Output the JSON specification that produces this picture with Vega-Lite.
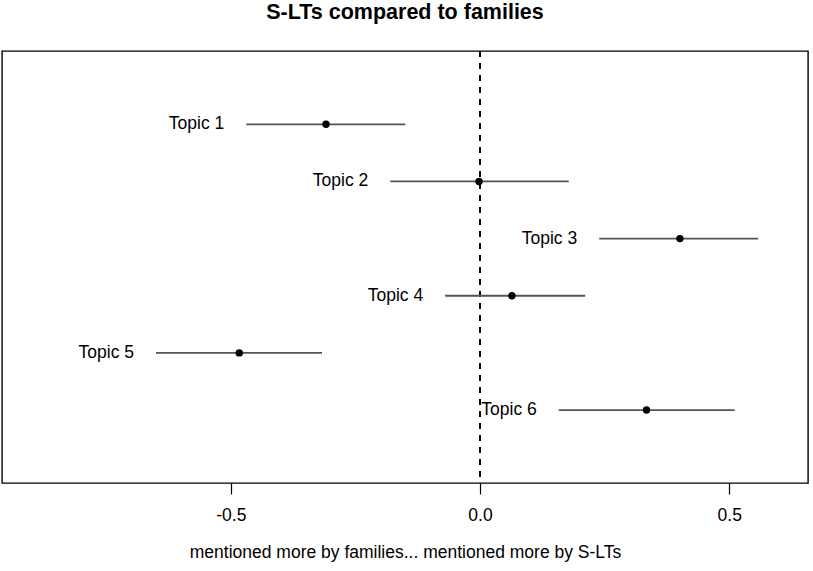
{
  "$schema": "https://vega.github.io/schema/vega-lite/v6.json",
  "autosize": "none",
  "width": 806,
  "height": 432,
  "padding": {"left": 2, "top": 51, "right": 5, "bottom": 88},
  "background": "white",
  "config": {
    "font": "Liberation Sans",
    "view": {"stroke": "black", "strokeWidth": 1.4}
  },
  "title": {
    "text": "S-LTs compared to families",
    "fontSize": 21.5,
    "fontWeight": "bold",
    "color": "black",
    "anchor": "middle",
    "baseline": "alphabetic",
    "offset": 10
  },
  "data": {
    "values": [
      {"topic": "Topic 1", "pos": 1, "est": -0.309, "lo": -0.469, "hi": -0.150},
      {"topic": "Topic 2", "pos": 2, "est": -0.002, "lo": -0.180, "hi": 0.178},
      {"topic": "Topic 3", "pos": 3, "est": 0.401, "lo": 0.239, "hi": 0.558},
      {"topic": "Topic 4", "pos": 4, "est": 0.064, "lo": -0.070, "hi": 0.211},
      {"topic": "Topic 5", "pos": 5, "est": -0.483, "lo": -0.650, "hi": -0.317},
      {"topic": "Topic 6", "pos": 6, "est": 0.334, "lo": 0.158, "hi": 0.511}
    ]
  },
  "encoding": {
    "y": {
      "field": "pos",
      "type": "quantitative",
      "scale": {"domain": [-0.283, 7.277], "reverse": true, "nice": false, "zero": false},
      "axis": null
    }
  },
  "layer": [
    {
      "mark": {"type": "rule", "color": "black", "strokeDash": [6, 6], "strokeWidth": 1.1},
      "encoding": {
        "x": {"datum": 0, "type": "quantitative"},
        "y": null
      }
    },
    {
      "mark": {"type": "rule", "color": "#555555", "strokeWidth": 1.8},
      "encoding": {
        "x": {
          "field": "lo",
          "type": "quantitative",
          "scale": {"domain": [-0.959, 0.658], "nice": false, "zero": false},
          "axis": {
            "values": [-0.5, 0, 0.5],
            "format": ".1f",
            "labelExpr": "replace(datum.label, '\u2212', '-')",
            "domain": false,
            "grid": false,
            "ticks": true,
            "tickSize": 11,
            "tickColor": "black",
            "tickWidth": 1.2,
            "labelFontSize": 17.5,
            "labelColor": "black",
            "labelPadding": 12,
            "title": "mentioned more by families... mentioned more by S-LTs",
            "titleFontSize": 17.5,
            "titleFontWeight": "normal",
            "titleColor": "black",
            "titlePadding": 20
          }
        },
        "x2": {"field": "hi"}
      }
    },
    {
      "mark": {"type": "point", "filled": true, "color": "black", "opacity": 1, "size": 55},
      "encoding": {
        "x": {"field": "est", "type": "quantitative"}
      }
    },
    {
      "mark": {"type": "text", "align": "right", "baseline": "middle", "dx": -22, "fontSize": 17.5, "color": "black"},
      "encoding": {
        "x": {"field": "lo", "type": "quantitative"},
        "text": {"field": "topic"}
      }
    }
  ]
}
